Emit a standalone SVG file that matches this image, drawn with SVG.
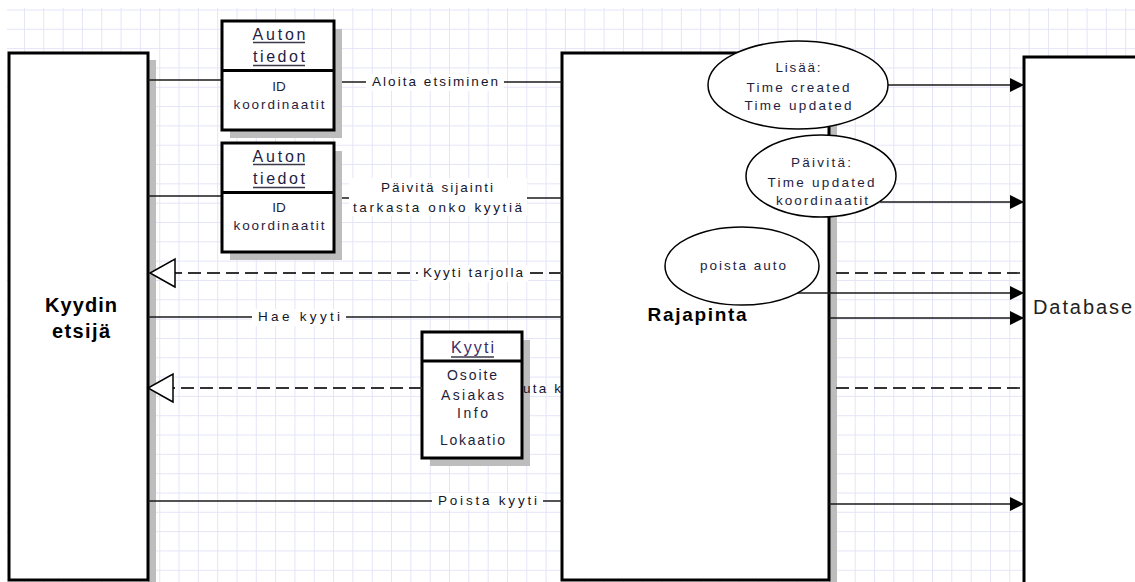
<svg xmlns="http://www.w3.org/2000/svg" width="1135" height="582" viewBox="0 0 1135 582">
<defs>
<pattern id="grid" patternUnits="userSpaceOnUse" x="4.66" y="9.5" width="19.32" height="19.32">
<path d="M0 0.5H19.32M0.5 0V19.32" fill="none" stroke="#e4e4f8" stroke-width="1"/>
</pattern>
<marker id="arrow" markerUnits="userSpaceOnUse" markerWidth="16" markerHeight="16" refX="15" refY="8" orient="auto">
<path d="M1 1L15 8L1 15Z" fill="#000"/>
</marker>
<marker id="hollow" markerUnits="userSpaceOnUse" markerWidth="30" markerHeight="32" refX="27" refY="16" orient="auto">
<path d="M2 2L27 16L2 30Z" fill="#fff" stroke="#000" stroke-width="1.5"/>
</marker>
</defs>
<style>
.box{fill:#fff;stroke:#000;stroke-width:3}
.shadow{fill:#bdbdbd}
.ell{fill:#fff;stroke:#000;stroke-width:1.5}
.ln{fill:none;stroke:#1a1a1a;stroke-width:1.5}
.dash{fill:none;stroke:#333;stroke-width:1.8;stroke-dasharray:13 6}
.lbl{font-family:"Liberation Sans",Arial,sans-serif;font-size:13.5px;fill:#15152a;text-anchor:middle}
.big{font-family:"Liberation Sans",Arial,sans-serif;font-size:20px;font-weight:bold;fill:#000;text-anchor:middle}
.hdr{font-family:"Liberation Sans",Arial,sans-serif;font-size:16px;fill:#1e1e44;text-anchor:middle}
.attr{font-family:"Liberation Sans",Arial,sans-serif;font-size:13.5px;fill:#1e1e40;text-anchor:middle}
.ul{stroke:#3a3a4a;stroke-width:1.5}
.bg{fill:#fff}
</style>
<rect x="0" y="0" width="1135" height="582" fill="#fff"/>
<rect x="7" y="8" width="1128" height="574" fill="url(#grid)"/>

<g id="kyydin-etsija">
<rect class="shadow" x="148" y="60" width="8" height="522"/>
<rect class="box" x="9" y="53" width="139" height="527"/>
<text class="big" x="81" y="312" textLength="72" lengthAdjust="spacing">Kyydin</text>
<text class="big" x="81" y="338" textLength="58" lengthAdjust="spacing">etsijä</text>
</g>

<g id="rajapinta">
<rect class="shadow" x="829" y="60" width="8" height="522"/>
<rect class="box" x="562" y="53" width="267" height="527"/>
<text class="big" x="697" y="321" textLength="99" lengthAdjust="spacing" style="font-size:19px">Rajapinta</text>
</g>

<g id="database">
<rect class="box" x="1024" y="57" width="120" height="530"/>
<text x="1033" y="314" font-family="Liberation Sans, Arial, sans-serif" font-size="20" fill="#222" textLength="99" lengthAdjust="spacing">Database</text>
</g>

<g id="kyyti">
<rect class="shadow" x="430" y="340" width="100" height="126"/>
<rect class="box" x="422" y="332" width="100" height="126"/>
<line x1="422" y1="361" x2="522" y2="361" stroke="#000" stroke-width="3"/>
<text class="hdr" x="472.5" y="353" style="fill:#3a2d6b" textLength="43" lengthAdjust="spacing">Kyyti</text>
<line class="ul" x1="451" y1="357" x2="494" y2="357"/>
<text class="attr" x="472" y="380" style="font-size:14px" textLength="50" lengthAdjust="spacing">Osoite</text>
<text class="attr" x="472.5" y="400" style="font-size:14px" textLength="63" lengthAdjust="spacing">Asiakas</text>
<text class="attr" x="472.5" y="418" style="font-size:14px" textLength="31" lengthAdjust="spacing">Info</text>
<text class="attr" x="472.5" y="445" style="font-size:14px" textLength="65" lengthAdjust="spacing">Lokaatio</text>
</g>

<g id="connectors">
<line class="ln" x1="148" y1="80" x2="222" y2="80"/>
<line class="ln" x1="334" y1="82" x2="562" y2="82"/>
<rect class="bg" x="366" y="74" width="138" height="17"/>
<text class="lbl" x="435" y="86" textLength="126" lengthAdjust="spacing">Aloita etsiminen</text>

<line class="ln" x1="148" y1="196" x2="222" y2="196"/>
<line class="ln" x1="334" y1="198" x2="562" y2="198"/>
<rect class="bg" x="349" y="178" width="178" height="38"/>
<text class="lbl" x="437" y="192" textLength="112" lengthAdjust="spacing">Päivitä sijainti</text>
<text class="lbl" x="437.5" y="212" textLength="169" lengthAdjust="spacing">tarkasta onko kyytiä</text>

<line class="dash" x1="562" y1="273" x2="150" y2="273" marker-end="url(#hollow)"/>
<rect class="bg" x="418" y="265" width="110" height="17"/>
<text class="lbl" x="473" y="277" textLength="100" lengthAdjust="spacing">Kyyti tarjolla</text>
<line class="dash" x1="836" y1="273" x2="1024" y2="273"/>

<line class="ln" x1="148" y1="317" x2="562" y2="317"/>
<rect class="bg" x="252" y="309" width="94" height="17"/>
<text class="lbl" x="299" y="321" textLength="82" lengthAdjust="spacing">Hae kyyti</text>
<line class="ln" x1="829" y1="318" x2="1024" y2="318" marker-end="url(#arrow)"/>

<line class="ln" x1="797" y1="293" x2="1024" y2="293" marker-end="url(#arrow)"/>

<line class="dash" x1="422" y1="388" x2="148" y2="388" marker-end="url(#hollow)"/>
<text x="523" y="393" font-family="Liberation Sans, Arial, sans-serif" font-size="13.5" fill="#15152a" textLength="38" lengthAdjust="spacing">uta k</text>
<line class="dash" x1="836" y1="388" x2="1024" y2="388"/>

<line class="ln" x1="148" y1="501" x2="562" y2="501"/>
<rect class="bg" x="432" y="493" width="111" height="17"/>
<text class="lbl" x="487.5" y="505" textLength="99" lengthAdjust="spacing">Poista kyyti</text>
<line class="ln" x1="829" y1="504" x2="1024" y2="504" marker-end="url(#arrow)"/>

<line class="ln" x1="888" y1="85" x2="1024" y2="85" marker-end="url(#arrow)"/>
<line class="ln" x1="880" y1="202" x2="1024" y2="202" marker-end="url(#arrow)"/>
</g>

<g id="auton-tiedot-1">
<rect class="shadow" x="230" y="29" width="112" height="109"/>
<rect class="box" x="222" y="21" width="112" height="109"/>
<line x1="222" y1="70.5" x2="334" y2="70.5" stroke="#000" stroke-width="3"/>
<text class="hdr" x="279" y="40" textLength="53" lengthAdjust="spacing">Auton</text>
<line class="ul" x1="253" y1="42.5" x2="305" y2="42.5"/>
<text class="hdr" x="279" y="62" textLength="52" lengthAdjust="spacing">tiedot</text>
<line class="ul" x1="253" y1="65.5" x2="305" y2="65.5"/>
<text class="attr" x="279" y="91">ID</text>
<text class="attr" x="279" y="109" textLength="91" lengthAdjust="spacing">koordinaatit</text>
</g>

<g id="auton-tiedot-2">
<rect class="shadow" x="230" y="151" width="112" height="109"/>
<rect class="box" x="222" y="143" width="112" height="109"/>
<line x1="222" y1="192.5" x2="334" y2="192.5" stroke="#000" stroke-width="3"/>
<text class="hdr" x="279" y="162" textLength="53" lengthAdjust="spacing">Auton</text>
<line class="ul" x1="253" y1="164.5" x2="305" y2="164.5"/>
<text class="hdr" x="279" y="184" textLength="52" lengthAdjust="spacing">tiedot</text>
<line class="ul" x1="253" y1="187.5" x2="305" y2="187.5"/>
<text class="attr" x="279" y="212">ID</text>
<text class="attr" x="279" y="230" textLength="91" lengthAdjust="spacing">koordinaatit</text>
</g>

<g id="lisaa">
<ellipse class="ell" cx="798" cy="85" rx="90" ry="44"/>
<text class="attr" x="798" y="72" textLength="45" lengthAdjust="spacing">Lisää:</text>
<text class="attr" x="798" y="92" textLength="103" lengthAdjust="spacing">Time created</text>
<text class="attr" x="798" y="110" textLength="107" lengthAdjust="spacing">Time updated</text>
</g>

<g id="paivita">
<ellipse class="ell" cx="821" cy="176" rx="75" ry="41"/>
<text class="attr" x="821" y="167" textLength="60" lengthAdjust="spacing">Päivitä:</text>
<text class="attr" x="821" y="187" textLength="107" lengthAdjust="spacing">Time updated</text>
<text class="attr" x="822" y="205" textLength="92" lengthAdjust="spacing">koordinaatit</text>
</g>

<g id="poista-auto">
<ellipse class="ell" cx="742" cy="266" rx="77" ry="39"/>
<text class="attr" x="743" y="270" textLength="86" lengthAdjust="spacing">poista auto</text>
</g>
</svg>
